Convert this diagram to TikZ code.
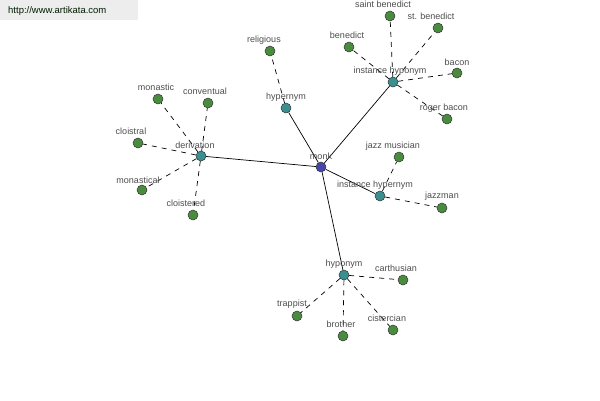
\documentclass[tikz,border=0pt]{standalone}
\usepackage{fontspec}
\setmainfont{Liberation Sans}
\begin{document}
\begin{tikzpicture}[x=1pt,y=-1pt,
  dot/.style={circle,draw=black!80,line width=0.5pt,minimum size=10pt,inner sep=0pt},
  leaf/.style={dot,fill=leafgreen},
  hub/.style={dot,fill=hubteal},
  root/.style={dot,fill=rootblue},
  lbl/.style={font=\fontsize{9}{10}\selectfont,text=black!70,inner sep=0pt},
  rel/.style={draw=black,line width=0.7pt},
  sub/.style={draw=black,line width=0.7pt,dash pattern=on 5pt off 5pt}]
\definecolor{leafgreen}{HTML}{4A8C3E}
\definecolor{hubteal}{HTML}{3A9090}
\definecolor{rootblue}{HTML}{4646A6}
\useasboundingbox (0,0) rectangle (600,400);
\fill[black!7] (0,0) rectangle (138,20);
\node[font=\fontsize{9.5}{10}\selectfont,text=black!65!green!30!black,anchor=west,inner sep=0pt] (wm) at (8,11) {http://www.artikata.com};

% hubs
\node[root] (monk) at (321,167) {};
\node[hub] (hypernym) at (286,108) {};
\node[hub] (insthypo) at (393,82) {};
\node[hub] (derivation) at (201,156) {};
\node[hub] (insthyper) at (380,196) {};
\node[hub] (hyponym) at (344,275) {};

% leaves
\node[leaf] (religious) at (270,51) {};
\node[leaf] (saintbenedict) at (390,16) {};
\node[leaf] (stbenedict) at (438,28) {};
\node[leaf] (benedict) at (349,47) {};
\node[leaf] (bacon) at (457,73) {};
\node[leaf] (rogerbacon) at (447,119) {};
\node[leaf] (jazzmusician) at (399,157) {};
\node[leaf] (jazzman) at (442,208) {};
\node[leaf] (monastic) at (158,99) {};
\node[leaf] (conventual) at (208,103) {};
\node[leaf] (cloistral) at (138,143) {};
\node[leaf] (monastical) at (142,190) {};
\node[leaf] (cloistered) at (193,215) {};
\node[leaf] (carthusian) at (403,280) {};
\node[leaf] (trappist) at (297,316) {};
\node[leaf] (brother) at (343,336) {};
\node[leaf] (cistercian) at (393,330) {};

% connectors
\draw[rel] (monk) -- (hypernym);
\draw[rel] (monk) -- (insthypo);
\draw[rel] (monk) -- (derivation);
\draw[rel] (monk) -- (insthyper);
\draw[rel] (monk) -- (hyponym);
\draw[sub] (hypernym) -- (religious);
\draw[sub] (insthypo) -- (saintbenedict);
\draw[sub] (insthypo) -- (stbenedict);
\draw[sub] (insthypo) -- (benedict);
\draw[sub] (insthypo) -- (bacon);
\draw[sub] (insthypo) -- (rogerbacon);
\draw[sub] (insthyper) -- (jazzmusician);
\draw[sub] (insthyper) -- (jazzman);
\draw[sub] (derivation) -- (monastic);
\draw[sub] (derivation) -- (conventual);
\draw[sub] (derivation) -- (cloistral);
\draw[sub] (derivation) -- (monastical);
\draw[sub] (derivation) -- (cloistered);
\draw[sub] (hyponym) -- (carthusian);
\draw[sub] (hyponym) -- (trappist);
\draw[sub] (hyponym) -- (brother);
\draw[sub] (hyponym) -- (cistercian);

% labels
\node[lbl] (l-monk) at (321,156) {monk};
\node[lbl] (l-hypernym) at (286,97) {hypernym};
\node[lbl] (l-insthypo) at (390,71) {instance hyponym};
\node[lbl] (l-derivation) at (195,145) {derivation};
\node[lbl] (l-insthyper) at (375,185) {instance hypernym};
\node[lbl] (l-hyponym) at (344,264) {hyponym};
\node[lbl] (l-religious) at (264,40) {religious};
\node[lbl] (l-saintbenedict) at (383,4) {saint benedict};
\node[lbl] (l-stbenedict) at (431,16) {st. benedict};
\node[lbl] (l-benedict) at (347,35) {benedict};
\node[lbl] (l-bacon) at (457,62) {bacon};
\node[lbl] (l-rogerbacon) at (444,108) {roger bacon};
\node[lbl] (l-jazzmusician) at (393,146) {jazz musician};
\node[lbl] (l-jazzman) at (442,196) {jazzman};
\node[lbl] (l-monastic) at (156,87) {monastic};
\node[lbl] (l-conventual) at (205,91) {conventual};
\node[lbl] (l-cloistral) at (131,131) {cloistral};
\node[lbl] (l-monastical) at (138,180) {monastical};
\node[lbl] (l-cloistered) at (186,203) {cloistered};
\node[lbl] (l-carthusian) at (396,268) {carthusian};
\node[lbl] (l-trappist) at (292,304) {trappist};
\node[lbl] (l-brother) at (341,324) {brother};
\node[lbl] (l-cistercian) at (387,318) {cistercian};
\end{tikzpicture}
\end{document}
